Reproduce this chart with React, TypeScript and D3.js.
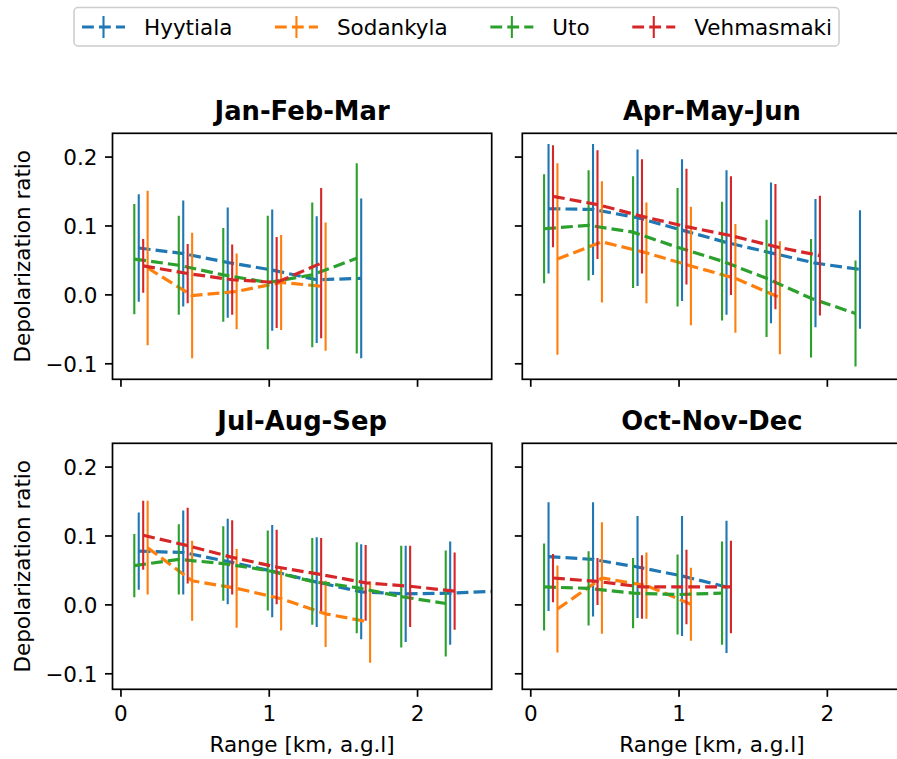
import React, { useMemo } from 'react';
import * as d3 from 'd3';

const WIDTH = 897;
const HEIGHT = 759;

const stations = ['Hyytiala', 'Sodankyla', 'Uto', 'Vehmasmaki'];
const stationColors = ['#1f77b4', '#ff7f0e', '#2ca02c', '#d62728'];
const seasons = ['Jan-Feb-Mar', 'Apr-May-Jun', 'Jul-Aug-Sep', 'Oct-Nov-Dec'];

const xTicks = [0, 1, 2];
const xTickLabels = ['0', '1', '2'];
const yTicks = [-0.1, 0.0, 0.1, 0.2];
const yTickLabels = ['\u22120.1', '0.0', '0.1', '0.2'];

// Range bin centres [km, a.g.l], slightly dodged per station
const hyytialaRange = [0.12, 0.42, 0.72, 1.02, 1.32, 1.62, 1.92, 2.22, 2.52];
const sodankylaRange = [0.18, 0.48, 0.78, 1.08, 1.38, 1.68];
const utoRange = [0.09, 0.39, 0.69, 0.99, 1.29, 1.59, 1.89, 2.19];
const vehmasmakiRange = [0.15, 0.45, 0.75, 1.05, 1.35, 1.65, 1.95, 2.25];

// Mean depolarization ratio per season (Jan-Mar, Apr-Jun, Jul-Sep, Oct-Dec)
const hyytialaMean = [
  [0.068, 0.060, 0.047, 0.036, 0.022, 0.024],
  [0.125, 0.124, 0.112, 0.094, 0.076, 0.061, 0.046, 0.037],
  [0.078, 0.076, 0.063, 0.049, 0.033, 0.019, 0.016, 0.017, 0.020],
  [0.070, 0.066, 0.055, 0.042, 0.026],
];
const hyytialaStd = [
  [0.078, 0.077, 0.080, 0.088, 0.092, 0.116],
  [0.094, 0.095, 0.099, 0.103, 0.105, 0.102, 0.093, 0.086],
  [0.056, 0.061, 0.062, 0.067, 0.065, 0.069, 0.070, 0.075, 0.070],
  [0.079, 0.083, 0.074, 0.087, 0.096],
];

const sodankylaMean = [
  [0.039, -0.001, 0.005, 0.018, 0.012],
  [0.052, 0.077, 0.061, 0.042, 0.024, -0.004],
  [0.083, 0.035, 0.024, 0.009, -0.013, -0.025],
  [-0.006, 0.039, 0.028, 0.001],
];
const sodankylaStd = [
  [0.112, 0.091, 0.055, 0.069, 0.093],
  [0.139, 0.088, 0.073, 0.086, 0.079, 0.082],
  [0.068, 0.058, 0.057, 0.046, 0.048, 0.059],
  [0.063, 0.081, 0.048, 0.053],
];

const utoMean = [
  [0.052, 0.043, 0.029, 0.018, 0.029, 0.053],
  [0.096, 0.101, 0.091, 0.069, 0.049, 0.024, -0.005, -0.027],
  [0.057, 0.066, 0.060, 0.050, 0.034, 0.025, 0.012, 0.002],
  [0.026, 0.024, 0.017, 0.015, 0.017],
];
const utoStd = [
  [0.080, 0.072, 0.068, 0.097, 0.105, 0.138],
  [0.079, 0.080, 0.081, 0.086, 0.086, 0.085, 0.086, 0.077],
  [0.046, 0.051, 0.054, 0.058, 0.063, 0.066, 0.074, 0.077],
  [0.063, 0.054, 0.051, 0.058, 0.075],
];

const vehmasmakiMean = [
  [0.042, 0.031, 0.022, 0.018, 0.046],
  [0.143, 0.131, 0.114, 0.099, 0.086, 0.070, 0.057],
  [0.101, 0.086, 0.069, 0.055, 0.044, 0.032, 0.027, 0.020],
  [0.039, 0.034, 0.026, 0.026, 0.026],
];
const vehmasmakiStd = [
  [0.039, 0.043, 0.051, 0.066, 0.109],
  [0.074, 0.079, 0.083, 0.084, 0.086, 0.091, 0.087],
  [0.050, 0.055, 0.054, 0.054, 0.053, 0.055, 0.059, 0.056],
  [0.035, 0.034, 0.046, 0.054, 0.067],
];

const stationRanges = [hyytialaRange, sodankylaRange, utoRange, vehmasmakiRange];
const stationMeans = [hyytialaMean, sodankylaMean, utoMean, vehmasmakiMean];
const stationStds = [hyytialaStd, sodankylaStd, utoStd, vehmasmakiStd];

// Figure layout (pixels)
const FONT = 'DejaVu Sans, sans-serif';
const FS = 21.5;
const TITLE_FS = 25.8;
const LW = 3.2;
const ELW = 2.1;
const SPINE = 1.7;
const TICK = 7.5;
const DASH = `${3.7 * LW} ${1.6 * LW}`;
const panelLefts = [112.5, 522.3];
const panelTops = [133.3, 443.3];
const PW = 379.2;
const PH = 246;
const xDomain = [-0.057, 2.5];
const yDomain = [-0.1225, 0.2345];

type Pt = { x: number; y: number; e: number };

function Panel({ idx }: { idx: number }) {
  const col = idx % 2;
  const row = Math.floor(idx / 2);
  const left = panelLefts[col];
  const top = panelTops[row];
  const x = d3.scaleLinear().domain(xDomain).range([left, left + PW]);
  const y = d3.scaleLinear().domain(yDomain).range([top + PH, top]);
  const line = d3
    .line<Pt>()
    .x((d) => x(d.x))
    .y((d) => y(d.y));
  const clipId = `clip-${idx}`;

  const series = stations.map((_, s) => {
    const means = stationMeans[s][idx];
    const stds = stationStds[s][idx];
    const pts: Pt[] = means.map((m, i) => ({ x: stationRanges[s][i], y: m, e: stds[i] }));
    return pts;
  });

  return (
    <g>
      <defs>
        <clipPath id={clipId}>
          <rect x={left} y={top} width={PW} height={PH} />
        </clipPath>
      </defs>
      <g clipPath={`url(#${clipId})`}>
        {series.map((pts, s) => (
          <g key={s}>
            {pts.map((p, i) => (
              <line
                key={i}
                x1={x(p.x)}
                x2={x(p.x)}
                y1={y(p.y - p.e)}
                y2={y(p.y + p.e)}
                stroke={stationColors[s]}
                strokeWidth={ELW}
              />
            ))}
            <path
              d={line(pts) || ''}
              fill="none"
              stroke={stationColors[s]}
              strokeWidth={LW}
              strokeDasharray={DASH}
            />
          </g>
        ))}
      </g>
      <rect
        x={left}
        y={top}
        width={PW}
        height={PH}
        fill="none"
        stroke="#000"
        strokeWidth={SPINE}
      />
      {xTicks.map((t, i) => (
        <g key={`xt${i}`}>
          <line
            x1={x(t)}
            x2={x(t)}
            y1={top + PH}
            y2={top + PH + TICK}
            stroke="#000"
            strokeWidth={SPINE}
          />
          {row === 1 && (
            <text
              x={x(t)}
              y={top + PH + TICK + 7.5 + 16.2}
              textAnchor="middle"
              fontFamily={FONT}
              fontSize={FS}
              fill="#000"
            >
              {xTickLabels[i]}
            </text>
          )}
        </g>
      ))}
      {yTicks.map((t, i) => (
        <g key={`yt${i}`}>
          <line
            x1={left - TICK}
            x2={left}
            y1={y(t)}
            y2={y(t)}
            stroke="#000"
            strokeWidth={SPINE}
          />
          {col === 0 && (
            <text
              x={left - TICK - 7.5}
              y={y(t)}
              dy="0.36em"
              textAnchor="end"
              fontFamily={FONT}
              fontSize={FS}
              fill="#000"
            >
              {yTickLabels[i]}
            </text>
          )}
        </g>
      ))}
      <text
        x={left + PW / 2}
        y={top - 12.9}
        textAnchor="middle"
        fontFamily={FONT}
        fontSize={TITLE_FS}
        fontWeight="bold"
        fill="#000"
      >
        {seasons[idx]}
      </text>
      {col === 0 && (
        <text
          transform={`translate(${22.7 + 7.5},${top + PH / 2}) rotate(-90)`}
          textAnchor="middle"
          fontFamily={FONT}
          fontSize={FS}
          fill="#000"
        >
          Depolarization ratio
        </text>
      )}
      {row === 1 && (
        <text
          x={left + PW / 2}
          y={752}
          textAnchor="middle"
          fontFamily={FONT}
          fontSize={FS}
          fill="#000"
        >
          Range [km, a.g.l]
        </text>
      )}
    </g>
  );
}

function Legend() {
  const widths = useMemo(() => {
    const ctx = document.createElement('canvas').getContext('2d');
    return stations.map((name) => {
      if (!ctx) return name.length * FS * 0.6;
      ctx.font = `${FS}px DejaVu Sans`;
      return ctx.measureText(name).width;
    });
  }, []);
  const handleLen = 43;
  const handlePad = 19;
  const colSpacing = 42.6;
  const boxLeft = 74;
  const cy = 27;
  let cursor = boxLeft + 8;
  const entries = stations.map((name, i) => {
    const hx = cursor;
    const tx = hx + handleLen + handlePad;
    cursor = tx + widths[i] + colSpacing;
    return { name, hx, tx, end: tx + widths[i] };
  });
  const boxRight = entries[entries.length - 1].end + 7;
  return (
    <g>
      <rect
        x={boxLeft}
        y={7.5}
        width={boxRight - boxLeft}
        height={38.5}
        rx={4}
        fill="#fff"
        fillOpacity={0.8}
        stroke="#cccccc"
        strokeWidth={1.5}
      />
      {entries.map((e, i) => (
        <g key={e.name}>
          <line
            x1={e.hx}
            x2={e.hx + handleLen}
            y1={cy}
            y2={cy}
            stroke={stationColors[i]}
            strokeWidth={LW}
            strokeDasharray={DASH}
          />
          <line
            x1={e.hx + handleLen / 2}
            x2={e.hx + handleLen / 2}
            y1={cy - 11}
            y2={cy + 11}
            stroke={stationColors[i]}
            strokeWidth={ELW}
          />
          <text
            x={e.tx}
            y={cy}
            dy="0.36em"
            fontFamily={FONT}
            fontSize={FS}
            fill="#000"
          >
            {e.name}
          </text>
        </g>
      ))}
    </g>
  );
}

export default function App() {
  return (
    <svg
      width={WIDTH}
      height={HEIGHT}
      viewBox={`0 0 ${WIDTH} ${HEIGHT}`}
      style={{ position: 'absolute', left: 0, top: 0, background: '#fff' }}
    >
      <rect x={0} y={0} width={WIDTH} height={HEIGHT} fill="#fff" />
      {seasons.map((_, i) => (
        <Panel key={i} idx={i} />
      ))}
      <Legend />
    </svg>
  );
}
